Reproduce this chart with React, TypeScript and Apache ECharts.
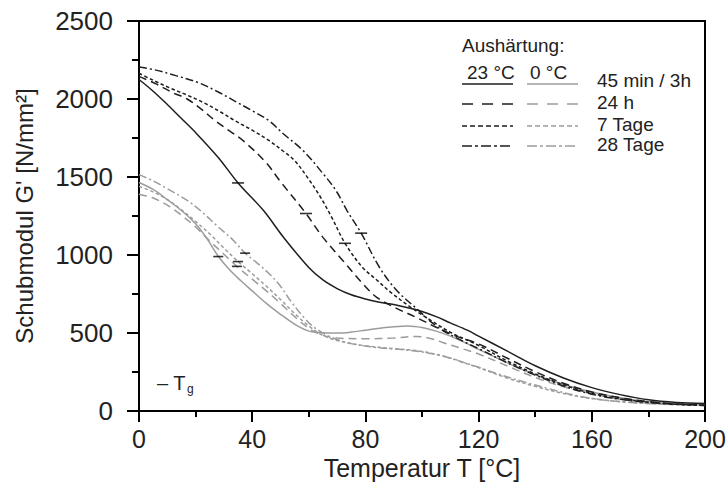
import React, { useEffect, useRef } from "react";
import * as echarts from "echarts";

// 23 °C curing (black)
const solid23 = [[0,2125],[5,2050],[10,1965],[15,1875],[20,1785],[28,1625],[35,1462],[44,1285],[51,1115],[60,920],[65,840],[70,785],[75,745],[80,718],[85,697],[90,682],[95,662],[100,638],[105,605],[110,565],[116,518],[120,480],[130,385],[140,290],[150,212],[160,150],[170,105],[180,72],[190,55],[200,48]];
const dashed23 = [[0,2145],[6,2097],[12,2040],[17,2000],[22,1935],[27,1860],[32,1795],[37,1730],[45,1590],[50,1470],[59,1266],[65,1113],[72,965],[79,818],[84,729],[91,658],[98,600],[105,537],[112,480],[120,430],[130,340],[140,252],[150,178],[160,122],[170,85],[180,60],[190,45],[200,38]];
const dotted23 = [[0,2165],[5,2120],[11,2070],[17,2025],[23,1975],[29,1915],[34,1860],[40,1800],[46,1733],[51,1665],[55,1605],[60,1485],[64,1375],[68,1245],[72.8,1075],[79,920],[84,840],[89,760],[96,665],[103,582],[110,505],[120,420],[130,322],[140,238],[150,168],[160,113],[170,78],[180,56],[190,43],[200,36]];
const dashdot23 = [[0,2205],[6,2185],[13,2150],[21,2105],[28,2045],[34,1985],[40,1925],[46,1860],[51,1777],[58,1669],[65,1522],[69.6,1413],[73.5,1285],[78.5,1140],[85,920],[91,774],[98,658],[105,545],[112,470],[120,400],[130,310],[140,230],[150,160],[160,108],[170,75],[180,55],[190,43],[200,36]];

// 0 °C curing (grey)
const solid0 = [[0,1465],[5,1420],[10,1355],[15,1285],[20,1200],[24,1105],[28,992],[32,905],[36,835],[40,770],[45,690],[50,620],[56,545],[60,512],[65,502],[70,500],[75,506],[80,518],[85,530],[90,540],[95,545],[100,535],[105,512],[110,480],[115,440],[120,395],[130,310],[140,232],[150,170],[160,122],[170,85],[180,60],[190,46],[200,40]];
const dashed0 = [[0,1390],[5,1365],[10,1320],[15,1255],[20,1180],[25,1090],[30,1005],[34.6,927],[40,845],[45,770],[50,690],[55,605],[60,530],[65,485],[70,468],[80,463],[90,468],[98,478],[103,465],[107,441],[115,395],[120,365],[130,290],[140,215],[150,155],[160,110],[170,76],[180,55],[190,43],[200,36]];
const dotted0 = [[0,1440],[5,1405],[10,1355],[15,1290],[20,1215],[25,1135],[30,1045],[35,958],[40,880],[45,800],[50,715],[55,625],[60,545],[65,485],[70,452],[80,418],[90,400],[100,382],[110,340],[115,308],[120,278],[130,212],[140,158],[150,112],[160,80],[170,60],[180,48],[190,40],[200,35]];
const dashdot0 = [[0,1515],[5,1475],[10,1425],[17,1350],[22,1280],[28,1180],[33,1100],[37.5,1012],[42,945],[46,880],[50,800],[53,720],[58,605],[62,535],[68,472],[75,432],[85,405],[95,390],[105,362],[115,310],[120,280],[125,248],[135,192],[145,142],[155,97],[165,68],[175,53],[185,45],[200,40]];

// Glass transition markers
const tg23 = [[35,1462],[59,1266],[72.8,1075],[78.5,1140]];
const tg0 = [[28,990],[35,958],[34.6,927],[37.5,1012]];

const xTicks = [0, 40, 80, 120, 160, 200];
const yTicks = [0, 500, 1000, 1500, 2000, 2500];

const legendRows = ["45 min / 3h", "24 h", "7 Tage", "28 Tage"];

const FONT = "Liberation Sans, Arial, Helvetica, sans-serif";
const BLACK = "#1e1e1e";
const GREY = "#9c9c9c";
const DASH: any = [8, 5];
const DOT: any = [3.5, 2.5];
const DASHDOT: any = [8, 3, 2, 3];

export default function App() {
  const ref = useRef<HTMLDivElement>(null);
  useEffect(() => {
    if (!ref.current) return;
    const chart = echarts.init(ref.current, null, { renderer: "svg" });
    const line = (name: string, data: number[][], color: string, type: any) => ({
      name,
      type: "line",
      data,
      smooth: 0.35,
      showSymbol: false,
      symbol: "none",
      lineStyle: { color, width: 1.5, type },
      z: color === BLACK ? 3 : 2,
    });
    const legendLine = (x1: number, x2: number, y: number, color: string, dash: any) => ({
      type: "line",
      shape: { x1, y1: y, x2, y2: y },
      style: { stroke: color, lineWidth: 1.5, lineDash: dash },
    });
    const legendText = (text: string, x: number, y: number, size = 19) => ({
      type: "text",
      x,
      y,
      style: { text, font: `${size}px ${FONT}`, fill: "#222", verticalAlign: "middle", textVerticalAlign: "middle" },
    });
    const rowsY = [80, 102, 124, 144];
    const sampleY = [84, 104, 126, 146];
    const dashes: any[] = [null, [11, 9], [5, 3], [10, 3, 3, 3]];
    const graphics: any[] = [
      legendText("Aushärtung:", 462, 45),
      legendText("23 °C", 467, 72),
      legendText("0 °C", 530, 72),
    ];
    legendRows.forEach((r, i) => {
      graphics.push(legendText(r, 597, rowsY[i]));
      graphics.push(legendLine(462, 513, sampleY[i], BLACK, dashes[i]));
      graphics.push(legendLine(527, 578, sampleY[i], GREY, dashes[i]));
    });
    graphics.push({
      type: "text",
      x: 157,
      y: 383,
      style: {
        text: "{a|– T}{b|g}",
        font: `20px ${FONT}`,
        fill: "#222",
        verticalAlign: "middle",
        textVerticalAlign: "middle",
        rich: {
          a: { fontSize: 20, fontFamily: FONT, fill: "#222", color: "#222" },
          b: { fontSize: 12, fontFamily: FONT, fill: "#222", color: "#222", padding: [12, 0, 0, 1] },
        },
      },
    });
    chart.setOption({
      animation: false,
      backgroundColor: "#fff",
      textStyle: { fontFamily: FONT },
      grid: {
        left: 139, right: 23, top: 21, bottom: 74,
        outerBoundsMode: "none",
        containLabel: false,
        show: true, borderColor: "#000", borderWidth: 2, backgroundColor: "transparent",
      },
      xAxis: {
        type: "value",
        min: xTicks[0],
        max: xTicks[xTicks.length - 1],
        interval: 40,
        name: "Temperatur T [°C]",
        nameLocation: "middle",
        nameGap: 36,
        nameTextStyle: { fontSize: 25, color: "#222", fontFamily: FONT },
        axisLine: { show: true, lineStyle: { color: "#000", width: 2 } },
        axisTick: { show: true, length: 11, lineStyle: { color: "#000", width: 2 } },
        minorTick: { show: true, splitNumber: 2, length: 6, lineStyle: { color: "#000", width: 2 } },
        splitLine: { show: false },
        minorSplitLine: { show: false },
        axisLabel: { fontSize: 25, color: "#222", margin: 15, fontFamily: FONT, formatter: (v: number) => String(v) },
      },
      yAxis: {
        type: "value",
        min: yTicks[0],
        max: yTicks[yTicks.length - 1],
        interval: 500,
        name: "Schubmodul G' [N/mm²]",
        nameLocation: "middle",
        nameGap: 103,
        nameTextStyle: { fontSize: 24, color: "#222", fontFamily: FONT },
        axisLine: { show: true, lineStyle: { color: "#000", width: 2 } },
        axisTick: { show: true, length: 12, lineStyle: { color: "#000", width: 2 } },
        minorTick: { show: true, splitNumber: 2, length: 7, lineStyle: { color: "#000", width: 2 } },
        splitLine: { show: false },
        axisLabel: { fontSize: 26, color: "#222", margin: 26, fontFamily: FONT, formatter: (v: number) => String(v) },
      },
      series: [
        line("45 min / 3h 0 °C", solid0, GREY, "solid"),
        line("24 h 0 °C", dashed0, GREY, DASH),
        line("7 Tage 0 °C", dotted0, GREY, DOT),
        line("28 Tage 0 °C", dashdot0, GREY, DASHDOT),
        line("45 min / 3h 23 °C", solid23, BLACK, "solid"),
        line("24 h 23 °C", dashed23, BLACK, DASH),
        line("7 Tage 23 °C", dotted23, BLACK, DOT),
        line("28 Tage 23 °C", dashdot23, BLACK, DASHDOT),
        { name: "Tg 23 °C", type: "scatter", data: tg23, symbol: "rect", symbolSize: [12, 1.6], itemStyle: { color: "#000" }, z: 5 },
        { name: "Tg 0 °C", type: "scatter", data: tg0, symbol: "rect", symbolSize: [10, 1.6], itemStyle: { color: "#000" }, z: 5 },
      ],
      graphic: graphics,
    });
    return () => chart.dispose();
  }, []);
  return <div ref={ref} style={{ width: 728, height: 485, position: "absolute", left: 0, top: 0 }} />;
}
